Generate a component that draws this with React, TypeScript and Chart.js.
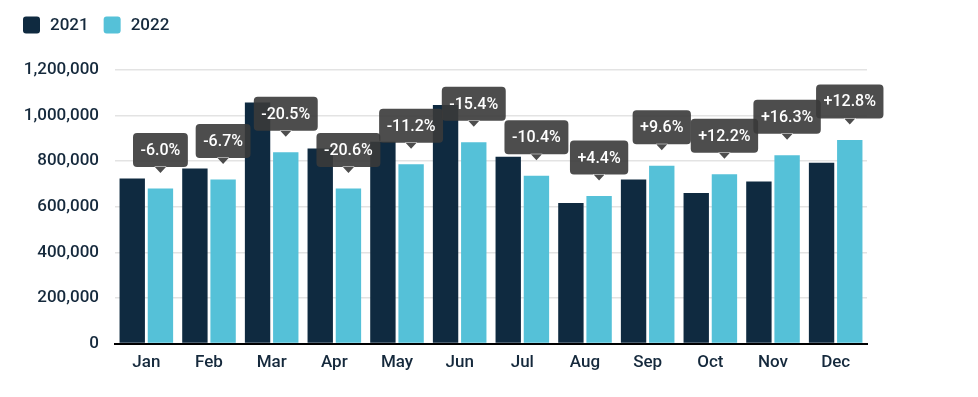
import React, { useEffect, useRef } from "react";
import { Chart, registerables } from "chart.js";

Chart.register(...registerables);

const months = ["Jan", "Feb", "Mar", "Apr", "May", "Jun", "Jul", "Aug", "Sep", "Oct", "Nov", "Dec"];
const values2021 = [724000, 768000, 1057000, 856000, 885000, 1047000, 819000, 617000, 720000, 661000, 711000, 793000];
const values2022 = [680000, 720000, 839000, 680000, 787000, 883000, 736000, 647000, 780000, 743000, 826000, 893000];
const changeLabels = ["-6.0%", "-6.7%", "-20.5%", "-20.6%", "-11.2%", "-15.4%", "-10.4%", "+4.4%", "+9.6%", "+12.2%", "+16.3%", "+12.8%"];
const seriesNames = ["2021", "2022"];

const NAVY = "#0f2a40";
const CYAN = "#55c1d8";
const TEXT = "#15293c";
const FONT = "Roboto, 'Noto Sans', sans-serif";

const legendPlugin = {
  id: "customLegend",
  afterDraw(chart: any) {
    const ctx = chart.ctx;
    ctx.save();
    ctx.font = `500 17px ${FONT}`;
    ctx.textBaseline = "middle";
    ctx.textAlign = "left";
    let x = 23;
    const cy = 25;
    chart.data.datasets.forEach((ds: any) => {
      ctx.fillStyle = ds.backgroundColor;
      ctx.beginPath();
      ctx.roundRect(x, cy - 8.5, 17, 17, 3);
      ctx.fill();
      ctx.fillStyle = TEXT;
      ctx.fillText(ds.label, x + 27, cy + 1);
      x += 27 + ctx.measureText(ds.label).width + 15;
    });
    ctx.restore();
  },
};

const changePlugin = {
  id: "changeLabels",
  afterDatasetsDraw(chart: any) {
    const ctx = chart.ctx;
    const meta = chart.getDatasetMeta(1);
    ctx.save();
    ctx.font = `500 16px ${FONT}`;
    ctx.textAlign = "center";
    ctx.textBaseline = "middle";
    meta.data.forEach((bar: any, i: number) => {
      const { x, y } = bar.getProps(["x", "y"], true);
      const text = changeLabels[i];
      const tw = ctx.measureText(text).width;
      const w = tw + 15;
      const h = 34;
      const tipY = y - 15.5;
      const boxBottom = tipY - 6;
      const boxTop = boxBottom - h;
      ctx.fillStyle = "rgba(58,58,58,0.9)";
      ctx.beginPath();
      ctx.roundRect(x - w / 2, boxTop, w, h, 4);
      ctx.moveTo(x - 6, boxBottom - 0.5);
      ctx.lineTo(x, tipY);
      ctx.lineTo(x + 6, boxBottom - 0.5);
      ctx.closePath();
      ctx.fill();
      ctx.fillStyle = "#ffffff";
      ctx.fillText(text, x, boxTop + h / 2 + 1);
    });
    ctx.restore();
  },
};

export default function App() {
  const canvasRef = useRef<HTMLCanvasElement | null>(null);

  useEffect(() => {
    if (!canvasRef.current) return;
    const chart = new Chart(canvasRef.current, {
      type: "bar",
      data: {
        labels: months,
        datasets: [
          { label: seriesNames[0], data: values2021, backgroundColor: NAVY, barPercentage: 0.9, categoryPercentage: 0.9 },
          { label: seriesNames[1], data: values2022, backgroundColor: CYAN, barPercentage: 0.9, categoryPercentage: 0.9 },
        ],
      },
      options: {
        responsive: false,
        animation: false,
        devicePixelRatio: 1,
        layout: { padding: { top: 70, left: 23, right: 111, bottom: 15 } },
        plugins: {
          legend: { display: false },
          tooltip: { enabled: false },
        },
        scales: {
          x: {
            grid: { display: false, drawTicks: false },
            border: { display: true, color: "#000000", width: 2 },
            ticks: { color: TEXT, font: { family: FONT, size: 17, weight: 500 }, padding: 9 },
          },
          y: {
            min: 0,
            max: 1200000,
            grid: { color: "#e3e3e3", lineWidth: 1.5, drawTicks: false },
            border: { display: false },
            afterFit(scale: any) {
              scale.width = 92;
            },
            ticks: {
              stepSize: 200000,
              color: TEXT,
              font: { family: FONT, size: 17, weight: 500 },
              padding: 16,
              callback: (v: any) => Number(v).toLocaleString("en-US"),
            },
          },
        },
      },
      plugins: [legendPlugin, changePlugin],
    });
    return () => chart.destroy();
  }, []);

  return (
    <div style={{ position: "fixed", left: 0, top: 0, width: 978, height: 397, background: "#ffffff" }}>
      <canvas ref={canvasRef} width={978} height={397} style={{ width: 978, height: 397 }} />
    </div>
  );
}
